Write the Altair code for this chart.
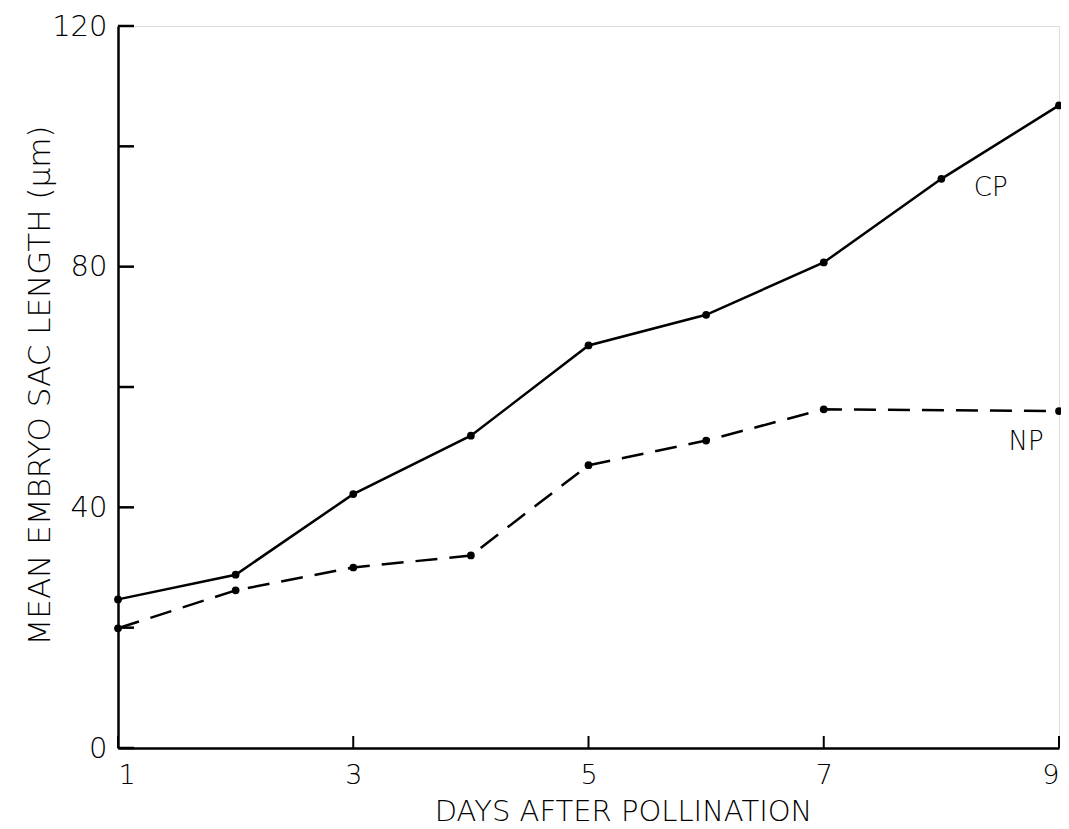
import altair as alt
import pandas as pd

days = [1, 2, 3, 4, 5, 6, 7, 8, 9]
cp_values = [24.7, 28.8, 42.2, 51.9, 66.9, 72.0, 80.7, 94.6, 106.8]
np_days = [1, 2, 3, 4, 5, 6, 7, 9]
np_values = [19.9, 26.2, 30.0, 32.0, 47.0, 51.1, 56.3, 56.0]

x_tick_values = [1, 3, 5, 7, 9]
y_tick_values = [0, 20, 40, 60, 80, 100, 120]
y_label_values = [0, 40, 80, 120]

label_text = ["CP", "NP"]
label_x = [8.42, 8.72]
label_y = [93.0, 50.8]

FONT = "DejaVu Sans"
W, H = 941, 722

cp_df = pd.DataFrame({"day": days, "length": cp_values})
np_df = pd.DataFrame({"day": np_days, "length": np_values})
lab_df = pd.DataFrame({"text": label_text, "day": label_x, "length": label_y})
xt_df = pd.DataFrame({"day": x_tick_values})
yt_df = pd.DataFrame({"length": y_tick_values})

xscale = alt.Scale(domain=[1, 9], nice=False, zero=False)
yscale = alt.Scale(domain=[0, 120], nice=False)

xaxis = alt.Axis(values=x_tick_values, format="d", title="DAYS AFTER POLLINATION",
                 tickSize=0, labelPadding=14, labelFontSize=27, labelFont=FONT,
                 labelFontWeight=300, labelColor="black",
                 titleFont=FONT, titleFontSize=29, titleFontWeight=300, titleColor="black",
                 titleX=505, titleY=72, titleBaseline="alphabetic", titleAlign="center",
                 domainColor="black", domainWidth=2.5, grid=False)
yaxis = alt.Axis(values=y_label_values, format="d", title="MEAN EMBRYO SAC LENGTH (µm)",
                 tickSize=0, labelPadding=11, labelFontSize=29, labelFont=FONT,
                 labelFontWeight=300, labelColor="black",
                 titleFont=FONT, titleFontSize=31, titleFontWeight=300, titleColor="black",
                 titleX=-78, titleY=359, titleAngle=-90, titleAlign="center",
                 titleBaseline="middle",
                 domainColor="black", domainWidth=2.5, grid=False)

cp_line = alt.Chart(cp_df).mark_line(color="black", strokeWidth=2.5).encode(
    x=alt.X("day:Q", scale=xscale, axis=xaxis),
    y=alt.Y("length:Q", scale=yscale, axis=yaxis),
)
cp_pts = alt.Chart(cp_df).mark_point(filled=True, color="black", size=60, opacity=1).encode(
    x=alt.X("day:Q", scale=xscale), y=alt.Y("length:Q", scale=yscale)
)
np_line = alt.Chart(np_df).mark_line(color="black", strokeWidth=2.5, strokeDash=[22, 12]).encode(
    x=alt.X("day:Q", scale=xscale), y=alt.Y("length:Q", scale=yscale)
)
np_pts = alt.Chart(np_df).mark_point(filled=True, color="black", size=60, opacity=1).encode(
    x=alt.X("day:Q", scale=xscale), y=alt.Y("length:Q", scale=yscale)
)
labels = alt.Chart(lab_df).mark_text(font=FONT, fontSize=26, fontWeight=300, color="black").encode(
    x=alt.X("day:Q", scale=xscale), y=alt.Y("length:Q", scale=yscale), text="text:N"
)
xticks = alt.Chart(xt_df).mark_rule(color="black", strokeWidth=2).encode(
    x=alt.X("day:Q", scale=xscale), y=alt.value(H), y2=alt.value(H - 12)
)
yticks = alt.Chart(yt_df).mark_rule(color="black", strokeWidth=2.5).encode(
    y=alt.Y("length:Q", scale=yscale), x=alt.value(0), x2=alt.value(16)
)

chart = alt.layer(cp_line, np_line, cp_pts, np_pts, labels, xticks, yticks).properties(
    width=W, height=H,
    autosize=alt.AutoSizeParams(type="none"),
    padding={"left": 110, "top": 18, "right": 2, "bottom": 78},
).configure_view(stroke=None).configure(background="white")

chart.save("out.html", embed_options={"renderer": "svg", "actions": False})
